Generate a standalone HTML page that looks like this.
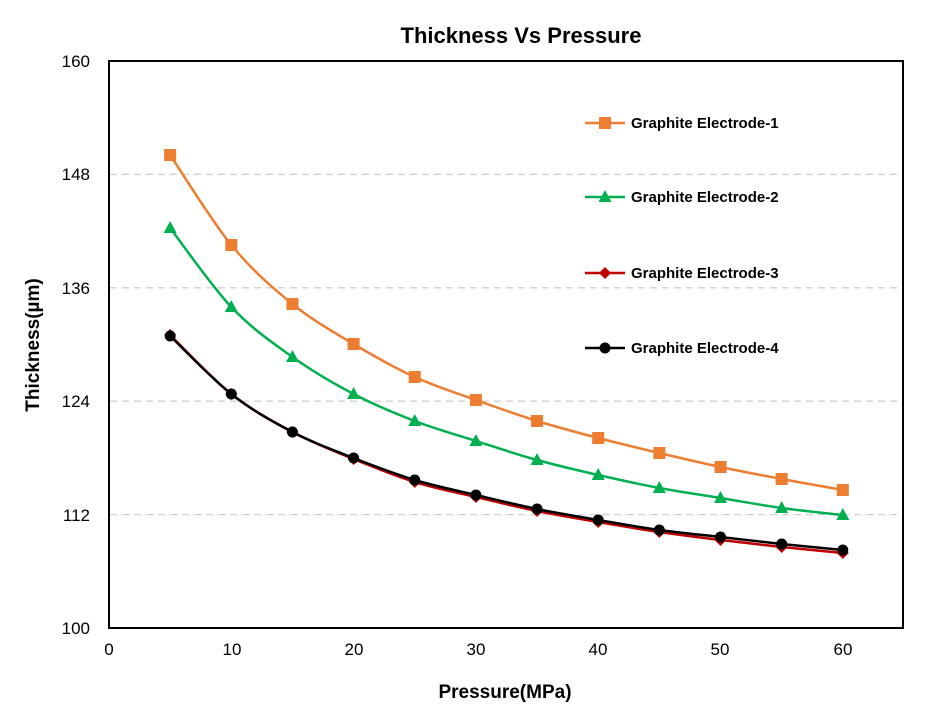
<!DOCTYPE html>
<html><head><meta charset="utf-8"><style>
body{margin:0;background:#fff;}
svg text{font-family:"Liberation Sans",Arial,sans-serif;}
</style></head><body>
<svg id="s" width="945" height="709" xmlns="http://www.w3.org/2000/svg">
<rect width="945" height="709" fill="#fff"/>
<text x="521" y="43" text-anchor="middle" font-size="22" font-weight="bold">Thickness Vs Pressure</text>
<g stroke="#d0d0d0" stroke-width="1.3" stroke-dasharray="7,5">
<line x1="110" x2="903" y1="174.4" y2="174.4"/>
<line x1="110" x2="903" y1="287.8" y2="287.8"/>
<line x1="110" x2="903" y1="401.2" y2="401.2"/>
<line x1="110" x2="903" y1="514.6" y2="514.6"/>
</g>
<rect x="109" y="61" width="794" height="567" fill="none" stroke="#000" stroke-width="2"/>
<g font-size="17" text-anchor="end">
<text x="90" y="67">160</text><text x="90" y="180">148</text><text x="90" y="294">136</text>
<text x="90" y="407">124</text><text x="90" y="521">112</text><text x="90" y="634">100</text>
</g>
<g font-size="17" text-anchor="middle">
<text x="109" y="655">0</text><text x="232" y="655">10</text><text x="354" y="655">20</text>
<text x="476" y="655">30</text><text x="598" y="655">40</text><text x="720" y="655">50</text><text x="843" y="655">60</text>
</g>
<text x="505" y="698" text-anchor="middle" font-size="19" font-weight="bold">Pressure(MPa)</text>
<text transform="translate(39,345) rotate(-90)" text-anchor="middle" font-size="19" font-weight="bold">Thickness(µm)</text>
<g id="series"></g>
<g font-size="15" font-weight="bold">
<text x="631" y="128">Graphite Electrode-1</text>
<text x="631" y="202">Graphite Electrode-2</text>
<text x="631" y="278">Graphite Electrode-3</text>
<text x="631" y="353">Graphite Electrode-4</text>
</g>
</svg>
<script>
var xs=[5,10,15,20,25,30,35,40,45,50,55,60].map(function(v){return 109+v*12.23;});
var S=[
{c:"#ED7D31",m:"sq",ly:123,y:[155,245,304,344,377,400,421,438,453,467,479,490]},
{c:"#00B050",m:"tri",ly:197,y:[228,307,357,394,421,441,460,475,488,498,508,515]},
{c:"#C00000",m:"dia",ly:273,y:[335,394,432,459,482,497,511,522,532,540,547,553]},
{c:"#000000",m:"cir",ly:348,y:[336,394,432,458,480,495,509,520,530,537,544,550]}];
var g=document.getElementById("series"),NS="http://www.w3.org/2000/svg",h="";
function mk(t,x,y,c){
 if(t=="sq")return '<rect x="'+(x-6)+'" y="'+(y-6)+'" width="12" height="12" fill="'+c+'"/>';
 if(t=="tri")return '<polygon points="'+x+','+(y-7)+' '+(x+6.5)+','+(y+5)+' '+(x-6.5)+','+(y+5)+'" fill="'+c+'"/>';
 if(t=="dia")return '<polygon points="'+x+','+(y-6)+' '+(x+6)+','+y+' '+x+','+(y+6)+' '+(x-6)+','+y+'" fill="'+c+'"/>';
 return '<circle cx="'+x+'" cy="'+y+'" r="5.5" fill="'+c+'"/>';
}
S.forEach(function(s){
 var p=xs.map(function(x,i){return [x,s.y[i]];}),d="M"+p[0];
 for(var i=0;i<p.length-1;i++){
  var p0=p[Math.max(0,i-1)],p1=p[i],p2=p[i+1],p3=p[Math.min(p.length-1,i+2)];
  var c1=[p1[0]+(p2[0]-p0[0])/6,p1[1]+(p2[1]-p0[1])/6],c2=[p2[0]-(p3[0]-p1[0])/6,p2[1]-(p3[1]-p1[1])/6];
  d+=" C"+c1+" "+c2+" "+p2;
 }
 h+='<path d="'+d+'" fill="none" stroke="'+s.c+'" stroke-width="2.5"/>';
 p.forEach(function(q){h+=mk(s.m,q[0],q[1],s.c);});
 h+='<line x1="585" x2="625" y1="'+s.ly+'" y2="'+s.ly+'" stroke="'+s.c+'" stroke-width="2.5"/>'+mk(s.m,605,s.ly,s.c);
});
g.innerHTML=h;
</script>
</body></html>
